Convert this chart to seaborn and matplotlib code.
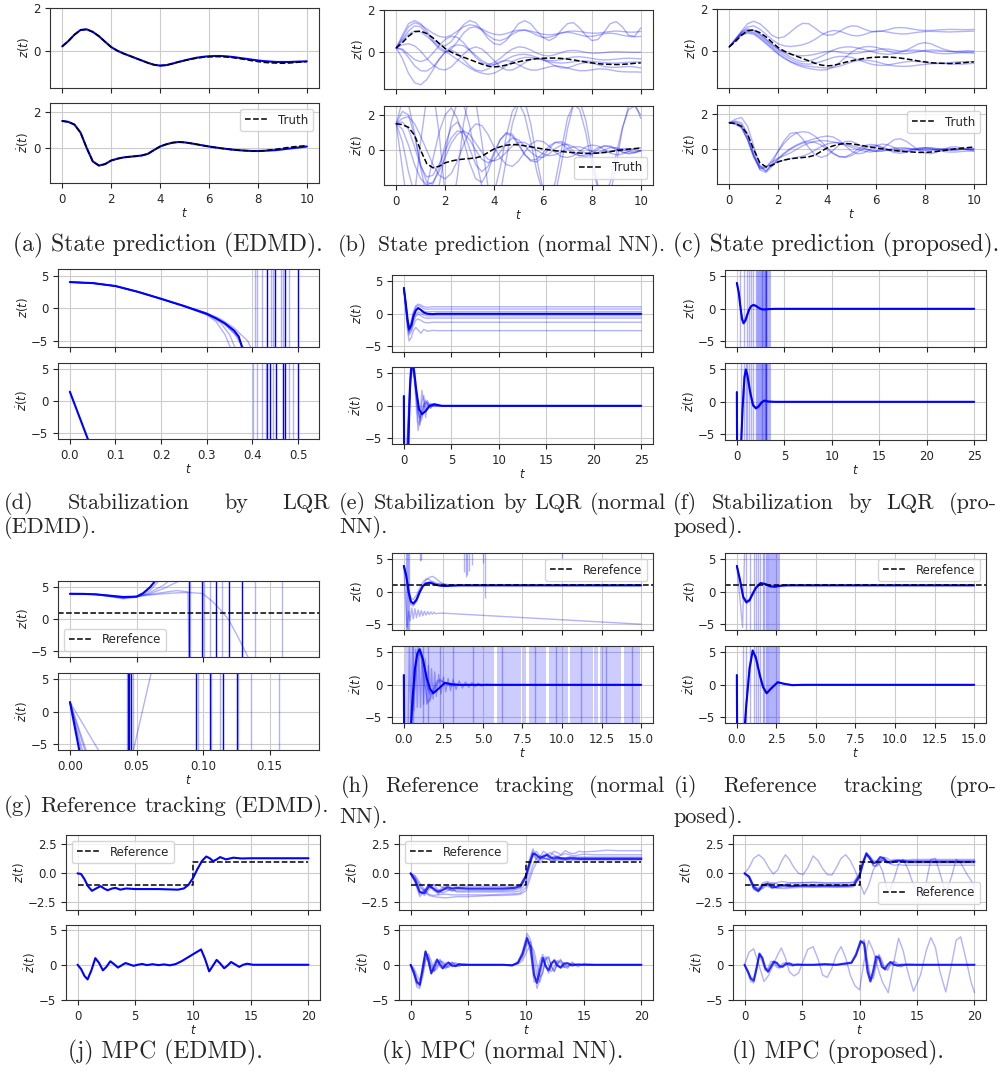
import numpy as np
import matplotlib
matplotlib.use("Agg")
import matplotlib.pyplot as plt
import seaborn as sns

sns.set_style("ticks", {"axes.grid": True, "grid.color": "#cccccc", "axes.edgecolor": "#333333"})
plt.rcParams["font.family"] = ["DejaVu Sans"]
plt.rcParams["xtick.labelsize"] = 8.5
plt.rcParams["ytick.labelsize"] = 8.5
plt.rcParams["xtick.major.size"] = 3.5
plt.rcParams["ytick.major.size"] = 3.5
plt.rcParams["grid.linewidth"] = 0.8
plt.rcParams["legend.fontsize"] = 8.5

W, H = 1003, 1078

# ---------------- row 1: state prediction ----------------
t1 = np.linspace(0, 10, 41)
truth_z = [0.2, 0.45, 0.75, 0.97, 1.0, 0.88, 0.68, 0.42, 0.17, 0.0,
           -0.13, -0.24, -0.35, -0.46, -0.57, -0.66, -0.70, -0.68, -0.61, -0.53,
           -0.46, -0.40, -0.35, -0.31, -0.29, -0.28, -0.28, -0.30, -0.33, -0.37,
           -0.42, -0.47, -0.51, -0.55, -0.57, -0.58, -0.59, -0.58, -0.56, -0.53,
           -0.51]
truth_dz = [1.5, 1.45, 1.3, 0.85, 0.0, -0.75, -0.98, -0.9, -0.7, -0.6,
            -0.53, -0.49, -0.46, -0.42, -0.33, -0.12, 0.08, 0.2, 0.29, 0.33,
            0.31, 0.26, 0.2, 0.14, 0.08, 0.03, -0.02, -0.06, -0.1, -0.13,
            -0.15, -0.17, -0.17, -0.15, -0.11, -0.07, -0.02, 0.03, 0.07, 0.1,
            0.13]
edmd_z = [0.2, 0.45, 0.75, 0.97, 1.0, 0.88, 0.68, 0.42, 0.17, 0.0,
          -0.13, -0.24, -0.35, -0.46, -0.57, -0.66, -0.70, -0.68, -0.61, -0.53,
          -0.46, -0.39, -0.33, -0.29, -0.26, -0.25, -0.25, -0.27, -0.30, -0.34,
          -0.38, -0.42, -0.46, -0.49, -0.51, -0.53, -0.53, -0.53, -0.52, -0.51,
          -0.50]
edmd_dz = [1.5, 1.45, 1.3, 0.85, 0.0, -0.75, -0.98, -0.9, -0.7, -0.6,
           -0.53, -0.49, -0.46, -0.42, -0.33, -0.12, 0.08, 0.2, 0.29, 0.33,
           0.31, 0.26, 0.2, 0.14, 0.08, 0.03, -0.02, -0.06, -0.1, -0.13,
           -0.15, -0.17, -0.17, -0.16, -0.14, -0.12, -0.08, -0.04, 0.0, 0.04,
           0.08]

nn_z = [
    [0.2, 0.8, 1.35, 1.5, 1.35, 1.0, 0.6, 0.35, 0.3, 0.5, 0.9, 1.3, 1.5, 1.4, 1.05, 0.65, 0.4, 0.35, 0.55, 0.95,
     1.35, 1.5, 1.35, 1.0, 0.7, 0.55, 0.7, 1.05, 1.35, 1.4, 1.15, 0.8, 0.55, 0.6, 0.95, 1.35, 1.45, 1.2, 0.8, 0.75, 1.15],
    [0.2, 0.6, 1.0, 1.25, 1.2, 0.9, 0.5, 0.15, 0.0, 0.15, 0.5, 0.9, 1.15, 1.2, 1.05, 0.8, 0.6, 0.55, 0.65, 0.85,
     1.0, 1.05, 0.95, 0.8, 0.7, 0.7, 0.8, 0.9, 0.95, 0.9, 0.82, 0.75, 0.75, 0.8, 0.88, 0.9, 0.87, 0.8, 0.75, 0.73, 0.75],
    [0.2, 0.7, 1.2, 1.4, 1.3, 1.1, 0.9, 0.75, 0.7, 0.8, 1.0, 1.2, 1.3, 1.25, 1.1, 0.95, 0.85, 0.82, 0.88, 0.98,
     1.05, 1.05, 1.0, 0.92, 0.85, 0.82, 0.85, 0.92, 0.98, 1.0, 0.98, 0.93, 0.9, 0.9, 0.94, 0.98, 1.0, 0.98, 0.95, 0.95, 0.98],
    [0.2, -0.3, -1.0, -1.45, -1.55, -1.3, -0.85, -0.35, 0.0, 0.1, -0.05, -0.35, -0.65, -0.85, -0.9, -0.8, -0.6, -0.45, -0.4, -0.45,
     -0.6, -0.75, -0.85, -0.85, -0.78, -0.7, -0.65, -0.68, -0.75, -0.83, -0.88, -0.88, -0.84, -0.8, -0.8, -0.84, -0.9, -0.93, -0.94, -0.94, -0.95],
    [0.2, 0.1, -0.25, -0.65, -0.88, -0.9, -0.7, -0.35, 0.0, 0.25, 0.35, 0.3, 0.1, -0.15, -0.4, -0.55, -0.6, -0.5, -0.35, -0.2,
     -0.12, -0.1, -0.15, -0.25, -0.35, -0.4, -0.4, -0.35, -0.28, -0.23, -0.22, -0.25, -0.3, -0.35, -0.37, -0.36, -0.33, -0.3, -0.29, -0.3, -0.32],
    [0.2, 0.15, -0.1, -0.35, -0.45, -0.35, -0.05, 0.3, 0.6, 0.75, 0.7, 0.45, 0.1, -0.25, -0.5, -0.6, -0.5, -0.3, -0.05, 0.15,
     0.25, 0.22, 0.1, -0.05, -0.15, -0.18, -0.12, -0.02, 0.06, 0.08, 0.05, -0.01, -0.05, -0.05, -0.02, 0.01, 0.02, 0.01, 0.0, -0.01, 0.0],
    [0.2, 0.35, 0.4, 0.3, 0.05, -0.3, -0.6, -0.8, -0.85, -0.7, -0.4, -0.1, 0.15, 0.25, 0.15, -0.1, -0.4, -0.7, -0.85, -0.85,
     -0.7, -0.5, -0.35, -0.3, -0.35, -0.5, -0.65, -0.75, -0.75, -0.65, -0.55, -0.5, -0.52, -0.6, -0.68, -0.72, -0.72, -0.7, -0.68, -0.7, -0.75],
    [0.2, 0.55, 0.85, 1.0, 0.95, 0.75, 0.5, 0.25, 0.05, -0.15, -0.35, -0.55, -0.75, -0.9, -1.0, -1.05, -1.0, -0.85, -0.65, -0.45,
     -0.32, -0.25, -0.25, -0.3, -0.38, -0.45, -0.5, -0.52, -0.5, -0.46, -0.43, -0.42, -0.44, -0.47, -0.5, -0.52, -0.52, -0.5, -0.48, -0.47, -0.47],
]
nn_dz = [
    [1.5, 2.8, 2.6, 1.0, -1.0, -2.6, -3.0, -2.0, -0.2, 1.6, 2.7, 2.6, 1.4, -0.4, -2.0, -2.8, -2.4, -1.0, 0.8, 2.2,
     2.7, 2.0, 0.5, -1.2, -2.4, -2.7, -1.8, 0.0, 1.8, 2.6, 2.3, 1.0, -0.8, -2.2, -2.6, -1.8, -0.2, 1.3, 2.3, 2.5, 2.0],
    [1.5, 2.2, 2.0, 0.8, -0.8, -1.8, -1.9, -1.0, 0.3, 1.3, 1.6, 1.1, 0.1, -0.8, -1.2, -0.9, -0.1, 0.6, 0.95, 0.8,
     0.3, -0.25, -0.55, -0.5, -0.15, 0.25, 0.45, 0.4, 0.1, -0.2, -0.3, -0.25, -0.05, 0.15, 0.25, 0.2, 0.05, -0.1, -0.15, -0.1, 0.0],
    [1.5, 0.5, -1.2, -2.5, -2.8, -2.0, -0.5, 1.0, 2.0, 2.4, 1.8, 0.6, -0.7, -1.6, -1.8, -1.2, -0.2, 0.6, 1.0, 0.9,
     0.4, -0.2, -0.6, -0.65, -0.35, 0.1, 0.45, 0.5, 0.3, -0.05, -0.3, -0.35, -0.2, 0.05, 0.25, 0.25, 0.1, -0.1, -0.2, -0.15, 0.0],
    [1.5, 1.8, 1.9, 1.5, 0.8, 0.0, -0.8, -1.4, -1.6, -1.3, -0.6, 0.3, 1.1, 1.5, 1.4, 0.9, 0.2, -0.4, -0.8, -0.9,
     -0.6, -0.1, 0.35, 0.55, 0.5, 0.25, -0.1, -0.35, -0.4, -0.3, -0.05, 0.2, 0.3, 0.25, 0.05, -0.15, -0.25, -0.2, -0.05, 0.1, 0.15],
    [1.5, -1.0, -3.5, -2.5, 0.5, 3.0, 3.5, 1.0, -2.5, -3.5, -1.5, 1.5, 3.2, 2.8, 0.5, -2.0, -3.0, -2.5, -0.5, 1.5,
     2.6, 2.8, 1.5, -0.5, -2.2, -3.0, -2.5, -0.8, 1.2, 2.6, 2.8, 1.7, -0.2, -2.0, -2.9, -2.5, -0.8, 1.2, 2.5, 2.7, 1.8],
    [1.5, 1.6, 1.2, 0.2, -0.9, -1.5, -1.4, -0.8, 0.0, 0.7, 1.1, 1.0, 0.6, 0.0, -0.5, -0.7, -0.55, -0.1, 0.4, 0.7,
     0.6, 0.25, -0.1, -0.35, -0.4, -0.2, 0.1, 0.3, 0.35, 0.2, 0.0, -0.15, -0.2, -0.12, 0.03, 0.15, 0.15, 0.05, -0.05, -0.1, -0.05],
    [1.5, 1.2, 0.3, -0.8, -1.6, -1.95, -1.8, -1.2, -0.4, 0.4, 0.9, 1.1, 0.9, 0.4, -0.1, -0.5, -0.6, -0.45, -0.1, 0.25,
     0.45, 0.45, 0.25, 0.0, -0.2, -0.3, -0.25, -0.08, 0.1, 0.2, 0.2, 0.1, -0.05, -0.15, -0.15, -0.08, 0.02, 0.1, 0.1, 0.05, -0.02],
]
prop_z = [
    [0.2, 0.55, 0.95, 1.3, 1.42, 1.3, 1.05, 0.75, 0.62, 0.68, 0.9, 1.15, 1.32, 1.3, 1.1, 0.88, 0.75, 0.78, 0.92, 1.1,
     1.2, 1.18, 1.05, 0.95, 0.92, 0.95, 1.02, 1.1, 1.12, 1.1, 1.05, 1.0, 0.98, 0.98, 1.0, 1.02, 1.03, 1.03, 1.02, 1.02, 1.03],
    [0.2, 0.5, 0.9, 1.15, 1.2, 1.05, 0.8, 0.55, 0.35, 0.25, 0.22, 0.25, 0.3, 0.4, 0.55, 0.75, 0.9, 0.98, 0.95, 0.85,
     0.75, 0.72, 0.78, 0.88, 0.95, 0.95, 0.9, 0.85, 0.82, 0.82, 0.86, 0.9, 0.93, 0.94, 0.93, 0.92, 0.91, 0.92, 0.93, 0.94, 0.95],
    [0.2, 0.55, 0.85, 1.0, 0.98, 0.8, 0.55, 0.3, 0.1, -0.05, -0.15, -0.2, -0.22, -0.2, -0.15, -0.08, -0.02, 0.0, -0.05, -0.1,
     -0.12, -0.1, -0.05, 0.0, 0.05, 0.1, 0.1, 0.05, 0.0, 0.05, 0.2, 0.35, 0.4, 0.35, 0.22, 0.1, 0.02, -0.02, 0.0, 0.02, 0.0],
    [0.2, 0.5, 0.8, 0.9, 0.85, 0.65, 0.4, 0.15, -0.1, -0.3, -0.5, -0.65, -0.75, -0.82, -0.87, -0.9, -0.88, -0.75, -0.55, -0.3,
     -0.05, 0.12, 0.2, 0.22, 0.18, 0.1, 0.0, -0.08, -0.12, -0.12, -0.08, -0.02, 0.03, 0.05, 0.04, 0.01, -0.02, -0.04, -0.05, -0.05, -0.05],
    [0.2, 0.5, 0.75, 0.85, 0.8, 0.6, 0.35, 0.1, -0.15, -0.35, -0.5, -0.6, -0.68, -0.72, -0.75, -0.78, -0.8, -0.78, -0.72, -0.62,
     -0.52, -0.45, -0.42, -0.45, -0.5, -0.58, -0.65, -0.7, -0.72, -0.72, -0.7, -0.66, -0.63, -0.6, -0.58, -0.58, -0.6, -0.62, -0.62, -0.6, -0.58],
    [0.2, 0.58, 0.9, 1.05, 1.0, 0.82, 0.58, 0.32, 0.1, -0.1, -0.28, -0.42, -0.5, -0.48, -0.38, -0.25, -0.1, 0.05, 0.15, 0.2,
     0.2, 0.15, 0.08, 0.0, -0.08, -0.13, -0.15, -0.12, -0.05, 0.02, 0.05, 0.04, 0.0, -0.05, -0.1, -0.12, -0.12, -0.1, -0.08, -0.08, -0.1],
    [0.2, 0.52, 0.82, 0.95, 0.9, 0.72, 0.48, 0.22, 0.0, -0.2, -0.38, -0.52, -0.6, -0.62, -0.58, -0.5, -0.4, -0.3, -0.25, -0.25,
     -0.3, -0.4, -0.5, -0.6, -0.66, -0.68, -0.66, -0.6, -0.55, -0.5, -0.48, -0.5, -0.53, -0.57, -0.59, -0.58, -0.55, -0.52, -0.5, -0.5, -0.5],
]
prop_dz = [
    [1.5, 1.7, 1.8, 1.3, 0.2, -0.9, -1.25, -0.8, -0.1, 0.5, 0.9, 0.95, 0.6, 0.1, -0.3, -0.45, -0.35, -0.05, 0.25, 0.45,
     0.45, 0.3, 0.1, -0.05, -0.12, -0.1, 0.0, 0.08, 0.1, 0.08, 0.02, -0.03, -0.05, -0.03, 0.0, 0.03, 0.04, 0.02, 0.0, -0.02, -0.02],
    [1.5, 1.5, 1.3, 0.6, -0.4, -1.1, -1.05, -0.6, -0.1, 0.35, 0.7, 0.92, 1.0, 0.95, 0.75, 0.45, 0.1, -0.2, -0.4, -0.42,
     -0.25, 0.0, 0.2, 0.28, 0.25, 0.12, 0.0, -0.1, -0.12, -0.08, 0.0, 0.05, 0.07, 0.05, 0.02, -0.02, -0.04, -0.03, 0.0, 0.02, 0.02],
    [1.5, 1.6, 1.5, 0.9, -0.2, -1.0, -1.2, -0.9, -0.5, -0.2, 0.05, 0.25, 0.4, 0.5, 0.6, 0.7, 0.75, 0.7, 0.5, 0.2,
     -0.1, -0.25, -0.2, 0.0, 0.2, 0.3, 0.25, 0.1, -0.05, -0.12, -0.1, 0.0, 0.08, 0.1, 0.05, 0.0, -0.05, -0.05, 0.0, 0.03, 0.05],
    [1.5, 1.45, 1.25, 0.55, -0.45, -1.05, -1.0, -0.7, -0.5, -0.35, -0.2, 0.0, 0.2, 0.35, 0.45, 0.5, 0.48, 0.42, 0.35, 0.25,
     0.12, 0.0, -0.1, -0.15, -0.1, 0.05, 0.3, 0.55, 0.6, 0.45, 0.2, -0.05, -0.2, -0.25, -0.15, 0.0, 0.12, 0.15, 0.08, -0.02, -0.08],
    [1.5, 1.55, 1.4, 0.75, -0.3, -1.15, -1.3, -0.95, -0.55, -0.25, 0.0, 0.2, 0.35, 0.42, 0.4, 0.25, 0.0, -0.25, -0.42, -0.45,
     -0.35, -0.15, 0.05, 0.18, 0.2, 0.1, -0.05, -0.18, -0.22, -0.15, -0.02, 0.08, 0.1, 0.05, -0.05, -0.12, -0.15, -0.15, -0.12, -0.1, -0.1],
    [1.5, 1.42, 1.2, 0.55, -0.35, -0.95, -1.0, -0.85, -0.7, -0.6, -0.52, -0.45, -0.38, -0.25, -0.05, 0.15, 0.3, 0.38, 0.38, 0.32,
     0.22, 0.12, 0.02, -0.05, -0.08, -0.08, -0.05, 0.0, 0.03, 0.05, 0.03, 0.0, -0.03, -0.04, -0.02, 0.0, 0.02, 0.03, 0.02, 0.0, 0.0],
]

# ---------------- row 2: LQR stabilization ----------------
d_main_t = [0, 0.05, 0.1, 0.15, 0.2, 0.25, 0.3, 0.32, 0.34, 0.36, 0.37, 0.38]
d_main_z = [4.0, 3.85, 3.4, 2.5, 1.45, 0.35, -0.85, -1.5, -2.3, -3.4, -4.3, -6.5]
d_faint_z = [
    ([0, 0.05, 0.1, 0.15, 0.2, 0.25, 0.3, 0.33, 0.36, 0.39, 0.40], [4.0, 3.85, 3.4, 2.5, 1.45, 0.4, -0.7, -1.6, -3.0, -5.0, -6.5]),
    ([0, 0.05, 0.1, 0.15, 0.2, 0.25, 0.3, 0.33, 0.36, 0.385], [4.0, 3.85, 3.4, 2.5, 1.45, 0.38, -0.8, -1.9, -3.8, -6.5]),
    ([0, 0.05, 0.1, 0.15, 0.2, 0.25, 0.3, 0.33, 0.35, 0.365], [4.0, 3.85, 3.4, 2.5, 1.45, 0.35, -0.9, -2.2, -4.0, -6.5]),
    ([0, 0.05, 0.1, 0.15, 0.2, 0.25, 0.3, 0.32, 0.34, 0.355], [4.0, 3.85, 3.4, 2.5, 1.45, 0.33, -1.0, -2.0, -4.0, -6.5]),
    ([0, 0.05, 0.1, 0.15, 0.2, 0.25, 0.3, 0.34, 0.37, 0.38], [4.0, 3.85, 3.4, 2.5, 1.45, 0.37, -0.75, -2.4, -4.5, -6.5]),
]
d_spk_z_faint = [0.406, 0.411, 0.422, 0.44, 0.445, 0.463, 0.468, 0.48]
d_spk_z_main = [0.432, 0.45, 0.472, 0.5]
d_main_dz_t = [0, 0.05]
d_main_dz = [1.5, -7.9]
d_spk_dz_faint = [0.402, 0.411, 0.422, 0.429, 0.445, 0.48, 0.488]
d_spk_dz_main = [0.433, 0.438, 0.451, 0.467, 0.472, 0.5]

e_tz = [0, 0.2, 0.4, 0.55, 0.8, 1.0, 1.25, 1.5, 1.8, 2.1, 2.5, 3.0, 3.5, 4.0, 25]
e_main_z = [4, 1.6, -1.0, -2.4, -1.7, -0.4, 0.5, 0.9, 0.6, 0.2, 0.0, -0.05, 0.0, 0.0, 0.0]
e_faint_z = [
    [4, 1.8, -0.8, -2.0, -1.0, 0.3, 1.2, 1.5, 1.35, 1.1, 1.0, 1.1, 1.1, 1.1, 1.1],
    [4, 1.6, -1.0, -2.3, -1.4, 0.0, 1.0, 1.3, 1.1, 0.8, 0.7, 0.75, 0.75, 0.75, 0.75],
    [4, 1.4, -1.3, -2.6, -1.8, -0.5, 0.5, 0.8, 0.6, 0.4, 0.3, 0.35, 0.35, 0.35, 0.35],
    [4, 1.3, -1.5, -2.8, -2.0, -0.9, 0.0, 0.3, 0.1, -0.2, -0.35, -0.3, -0.3, -0.3, -0.3],
    [4, 1.2, -1.7, -3.0, -2.3, -1.2, -0.4, 0.0, -0.3, -0.6, -0.7, -0.65, -0.65, -0.65, -0.65],
    [4, 1.0, -2.0, -3.3, -2.7, -1.8, -1.0, -0.8, -1.0, -1.3, -1.4, -1.3, -1.3, -1.3, -1.3],
    [4, 0.5, -2.8, -4.2, -3.6, -2.6, -2.1, -2.5, -3.0, -2.4, -2.7, -2.55, -2.6, -2.6, -2.6],
]
e_td = [0, 0.03, 0.1, 0.45, 0.55, 0.65, 0.8, 0.95, 1.1, 1.3, 1.6, 1.9, 2.3, 2.7, 3.2, 4, 25]
e_main_dz = [1.5, -8, -12, -8, -2, 3, 6.3, 6.6, 5.0, 2.5, -0.5, -1.3, -0.8, 0.0, 0.25, 0.0, 0.0]
e_tf = [0, 0.03, 0.1, 0.3, 0.5, 0.7, 0.9, 1.1, 1.3, 1.5, 1.7, 1.9, 2.1, 2.3, 2.5, 2.8, 3.1, 3.5, 4.0, 25]
e_faint_dz = [
    [1.5, -8, -12, -9, -2, 4, 6.5, 4, 0, -3.8, -2, 2.4, 0.5, -1.8, 0.8, -0.4, 0.3, 0.1, 0, 0],
    [1.5, -8, -12, -8, -1, 5, 6.8, 5, 1.5, -2.5, -3, 0.5, 1.6, -0.5, -0.6, 0.4, 0.1, 0.0, 0, 0],
    [1.5, -8, -12, -7, 0, 5.5, 6.2, 4.5, 1.8, -0.8, -2.0, -1.5, 0.3, 0.9, 0.2, -0.3, 0.1, 0.0, 0, 0],
    [1.5, -8, -12, -9, -3, 3, 6, 5, 2, -1, -2.5, -2.0, -0.5, 0.6, 0.5, 0.0, -0.1, 0.0, 0, 0],
    [1.5, -8, -12, -8, -1.5, 4.5, 7, 6, 3, -0.5, -1.8, -1.0, 0.2, 0.4, 0.1, -0.1, 0.0, 0.0, 0, 0],
]

f_tz = [0, 0.2, 0.4, 0.55, 0.7, 0.9, 1.1, 1.3, 1.5, 1.75, 2.0, 2.3, 2.6, 2.9, 3.3, 4, 25]
f_main_z = [4.0, 2.5, 0.0, -1.6, -2.2, -1.8, -0.9, -0.1, 0.4, 0.6, 0.45, 0.15, -0.05, -0.1, -0.05, 0.0, 0.0]
f_faint_z = [
    [4.0, 2.3, -0.3, -1.8, -2.4, -2.0, -1.1, -0.2, 0.4, 0.7, 0.55, 0.2, -0.05, -0.15, -0.05, 0.0, 0.0],
    [4.0, 2.7, 0.3, -1.3, -2.0, -1.6, -0.7, 0.0, 0.45, 0.55, 0.35, 0.08, -0.1, -0.08, 0.0, 0.0, 0.0],
]
f_spk_z = [0.36, 0.72, 1.03, 1.3, 1.48, 1.75, 2.0, 2.12, 2.25, 2.35, 2.45, 2.55, 2.62, 2.7, 2.8,
           2.86, 2.92, 2.97, 3.02, 3.06, 3.1]
f_td = [0, 0.03, 0.35, 0.45, 0.6, 0.8, 0.95, 1.1, 1.4, 1.7, 2.0, 2.3, 2.6, 2.9, 3.3, 4, 25]
f_main_dz = [1.5, -9, -9, -6.5, -1.0, 3.8, 5.0, 4.2, 1.5, -0.5, -1.0, -0.7, -0.1, 0.2, 0.05, 0, 0]
f_faint_dz = [
    [1.5, -9, -9, -7, -2.0, 3.0, 4.6, 4.3, 1.9, -0.2, -1.1, -0.9, -0.2, 0.15, 0.05, 0, 0],
    [1.5, -9, -9, -6, -0.2, 4.2, 5.0, 3.8, 1.2, -0.7, -0.9, -0.5, 0.0, 0.15, 0.0, 0, 0],
]
f_spk_dz = [0.4, 0.72, 0.95, 1.1, 1.3, 1.48, 1.75, 2.0, 2.12, 2.25, 2.35, 2.45, 2.55, 2.62, 2.7, 2.8,
            2.86, 2.92, 2.97, 3.02, 3.06, 3.1]
f_band = (3.1, 3.58)

# ---------------- row 3: reference tracking ----------------
g_main_t = [0, 0.01, 0.02, 0.03, 0.04, 0.05, 0.055, 0.06, 0.066]
g_main_z = [4.0, 3.98, 3.9, 3.7, 3.5, 3.55, 4.1, 5.0, 6.5]
g_faint_z = [
    ([0, 0.01, 0.02, 0.03, 0.04, 0.05, 0.06, 0.068], [4.0, 3.98, 3.88, 3.6, 3.3, 3.55, 4.5, 6.3]),
    ([0, 0.01, 0.02, 0.03, 0.04, 0.05, 0.06, 0.07, 0.076], [4.0, 3.98, 3.85, 3.55, 3.2, 3.45, 4.2, 5.3, 6.3]),
    ([0, 0.01, 0.02, 0.03, 0.04, 0.05, 0.06, 0.07, 0.08, 0.086], [4.0, 3.98, 3.9, 3.65, 3.35, 3.6, 4.0, 4.8, 5.8, 6.5]),
    ([0, 0.01, 0.02, 0.03, 0.04, 0.05, 0.06, 0.07, 0.08, 0.0885, 0.0895], [4.0, 3.98, 3.9, 3.7, 3.4, 3.6, 3.9, 4.2, 4.5, 4.3, -7]),
    ([0, 0.01, 0.02, 0.03, 0.04, 0.05, 0.06, 0.07, 0.08, 0.0894, 0.0995, 0.107, 0.113, 0.119, 0.126, 0.133, 0.136],
     [4.0, 3.98, 3.9, 3.7, 3.45, 3.55, 3.8, 4.0, 4.15, 4.2, 4.05, 2.8, 1.5, 0.0, -2.7, -5.6, -7]),
]
g_spk_z_main = [0.0894, 0.0995, 0.1095, 0.1195, 0.1295]
g_spk_z_faint = [0.0905, 0.101, 0.105, 0.114, 0.139, 0.159]
g_main_dz = ([0, 0.0075], [1.5, -6.5])
g_faint_dz = [
    ([0, 0.0088], [1.5, -6.5]), ([0, 0.01], [1.5, -6.5]), ([0, 0.012], [1.5, -6.5]),
    ([0, 0.013], [1.5, -6.5]), ([0, 0.023], [1.5, -6.5]), ([0.047, 0.0615], [-6.5, 6.5]),
]
g_spk_dz_main = [0.0435, 0.0445, 0.046, 0.0944, 0.105, 0.115, 0.1256]
g_spk_dz_faint = [0.0425, 0.047, 0.096, 0.106, 0.113, 0.1263, 0.136, 0.157]

h_tz = [0, 0.15, 0.3, 0.45, 0.6, 0.8, 1.0, 1.2, 1.4, 1.6, 1.8, 2.0, 2.3, 2.6, 3.0, 3.5, 15]
h_main_z = [4, 2.5, 0.0, -1.5, -1.8, -1.2, 0.0, 0.9, 1.3, 1.4, 1.3, 1.1, 0.95, 0.9, 0.95, 1.0, 1.0]
h_faint_z = [
    [4, 2.2, -0.5, -2.0, -2.2, -1.5, -0.2, 1.0, 1.8, 2.2, 2.4, 2.1, 1.5, 1.1, 1.0, 1.0, 1.0],
    [4, 2.6, 0.4, -1.0, -1.2, -0.5, 0.6, 1.5, 2.0, 1.9, 1.5, 1.2, 1.3, 1.2, 1.05, 1.0, 1.0],
    [4, 2.4, -0.2, -1.7, -2.0, -1.4, -0.3, 0.7, 1.2, 1.5, 1.6, 1.4, 1.1, 0.85, 0.9, 1.0, 1.0],
]
h_low_t = [0, 0.1, 0.2, 0.3, 0.4, 0.5, 0.6, 0.7, 0.8, 0.9, 1.0, 1.1, 1.2, 1.3, 1.4, 1.5, 1.6, 1.7, 1.8, 1.9,
           2.0, 2.2, 2.5, 15]
h_low_z = [4, -1, -5.5, -3, -4.5, -2.5, -4.2, -2.6, -4.0, -2.8, -3.8, -2.9, -3.7, -3.0, -3.6, -3.05, -3.5, -3.1,
           -3.45, -3.15, -3.4, -3.3, -3.3, -5.0]
h_spk_t = [0.15, 0.22, 0.28, 0.34, 1.0, 1.1, 3.8, 3.9, 4.0, 4.1, 4.3, 5.0, 5.1, 10.0]
h_spk_low = [-7, -7, -7, -7, 4.8, 4.9, 3.0, 2.3, 2.6, 3.2, 4.2, 4.4, -1.0, 5.3]
h_main_dz_t = [0, 0.02, 0.35, 0.44, 0.55, 0.7, 0.85, 1.0, 1.2, 1.45, 1.65, 1.85, 2.1, 2.6, 3.0, 3.5, 15]
h_main_dz = [1.5, -9, -9, -6.5, -2.0, 2.5, 4.8, 5.5, 4.0, 1.0, -0.6, -1.3, -0.8, 0.3, 0.1, 0.0, 0.0]
h_saw_t = [0, 0.02, 0.25, 0.35, 0.45, 0.55, 0.65, 0.75, 0.85, 0.95, 1.05, 1.15, 1.25, 1.35, 1.45, 1.55, 1.65,
           1.75, 1.85, 1.95, 2.05, 2.2, 2.35, 2.5, 2.65, 2.8, 2.95, 3.1, 3.3, 3.5, 3.7, 3.9, 4.1, 4.3, 4.5,
           4.7, 4.9, 5.2, 5.6, 15]
h_saw_dz = [1.5, -9, -9, 6, -5, 6, -4, 5.5, -3.5, 5, -3.5, 4.5, -3, 4, -3, 3, -2.5, 2.5, -2.2, 2, -1.8, 1.6,
            -1.4, 1.2, -1.1, 1.0, -0.9, 0.8, -0.7, 0.6, -0.5, 0.45, -0.4, 0.35, -0.3, 0.25, -0.2, 0.1, 0.0, 0.0]
h_fd_t = [0, 0.02, 0.4, 0.5, 0.7, 0.9, 1.1, 1.3, 1.5, 1.7, 1.9, 2.1, 2.3, 2.6, 3.0, 3.5, 15]
h_faint_dz = [
    [1.5, -9, -9, -5, 2, 5.8, 4, 0.5, -2.8, -2.0, -0.5, 0.6, 0.8, 0.2, -0.2, 0, 0],
    [1.5, -9, -9, -6, 0, 4.5, 5.0, 2.5, -0.5, -1.5, -1.0, 0.2, 0.6, 0.3, 0.0, 0, 0],
]
h_bands = [(0.05, 5.7), (5.9, 7.4), (7.55, 7.75), (7.9, 9.0), (9.15, 10.35), (10.5, 11.95),
           (12.05, 12.25), (12.4, 13.75), (13.9, 14.95)]
h_dark_spk = [0.6, 1.2, 1.5, 2.3, 3.1, 4.4, 6.2, 8.3, 9.6, 11.2, 12.8, 14.4]

i_tz = [0, 0.2, 0.4, 0.6, 0.8, 1.0, 1.2, 1.5, 1.8, 2.1, 2.4, 2.8, 3.2, 15]
i_main_z = [4.0, 1.8, -0.8, -1.6, -1.3, -0.3, 0.6, 1.35, 1.2, 0.85, 0.78, 0.95, 1.0, 1.0]
i_faint_z = [
    [4.0, 1.6, -1.0, -1.8, -1.5, -0.5, 0.5, 1.3, 1.3, 1.0, 0.8, 0.9, 1.0, 1.0],
    [4.0, 2.0, -0.6, -1.4, -1.1, -0.1, 0.8, 1.4, 1.1, 0.8, 0.85, 1.0, 1.0, 1.0],
]
i_dive = ([0, 0.36, 0.5], [4.0, -5.5, 7])
i_spk_z = [0.57, 0.85, 1.06, 1.2, 1.36, 1.48, 1.63, 1.74, 1.84, 1.9]
i_td = [0, 0.02, 0.45, 0.5, 0.6, 0.8, 1.0, 1.2, 1.45, 1.65, 1.88, 2.15, 2.58, 3.0, 3.5, 4.2, 15]
i_main_dz = [1.5, -9, -9, -6.5, -3.0, 2.5, 5.3, 4.2, 1.5, -0.3, -1.3, -0.6, 0.4, 0.15, -0.05, 0.0, 0.0]
i_faint_dz = [
    [1.5, -9, -9, -7, -3.5, 2.0, 5.0, 4.4, 1.8, -0.1, -1.2, -0.7, 0.3, 0.2, 0.0, 0.0, 0.0],
    [1.5, -9, -9, -6, -2.5, 3.0, 5.4, 4.0, 1.2, -0.5, -1.4, -0.5, 0.45, 0.1, -0.05, 0.0, 0.0],
]
i_spk_dz = [0.38, 0.6, 0.85, 1.06, 1.2, 1.36, 1.48, 1.63, 1.74, 1.84, 1.9]
i_band = (1.95, 2.72)

# ---------------- row 4: MPC ----------------
ref_t = [0, 10, 10, 20]
ref_v = [-1, -1, 1, 1]
j_tz = [0, 0.3, 0.6, 0.9, 1.25, 1.6, 2.0, 2.3, 2.6, 3.0, 3.3, 3.7, 4.2, 5, 6, 7, 8, 8.7, 9.2, 9.6,
        10.0, 10.4, 10.8, 11.15, 11.45, 11.75, 12.05, 12.35, 12.85, 13.5, 14.2, 15, 20]
j_z = [0, -0.05, -0.5, -1.1, -1.5, -1.3, -1.1, -1.3, -1.45, -1.3, -1.25, -1.4, -1.3, -1.35, -1.35, -1.35,
       -1.38, -1.4, -1.3, -1.0, -0.4, 0.4, 1.1, 1.45, 1.3, 1.05, 1.2, 1.4, 1.2, 1.35, 1.28, 1.3, 1.3]
j_td = [0, 0.3, 0.6, 0.87, 1.2, 1.54, 1.85, 2.2, 2.5, 2.84, 3.15, 3.5, 3.8, 4.15, 4.5, 4.85, 5.2, 5.6, 6.0,
        6.5, 7.0, 7.5, 8.0, 8.5, 9.0, 9.5, 10.0, 10.4, 10.7, 11.05, 11.4, 11.7, 12.05, 12.4, 12.7, 13.0,
        13.3, 13.65, 14.0, 14.35, 14.7, 15.2, 16, 20]
j_dz = [0, -0.6, -1.6, -2.1, -0.8, 0.95, 0.3, -0.8, -0.3, 0.5, 0.1, -0.4, -0.1, 0.25, 0.05, -0.15, 0.0, 0.12,
        -0.05, 0.08, -0.05, 0.05, -0.08, 0.1, 0.5, 1.0, 1.5, 1.9, 2.2, 0.8, -0.95, -0.2, 0.7, 0.1, -0.5, -0.1,
        0.4, 0.05, -0.3, 0.0, 0.15, 0.0, 0.0, 0.0]

tk = [0, 0.4, 0.8, 1.2, 1.6, 2.0, 2.4, 2.8, 3.2, 3.6, 4.0, 5, 6, 7, 8, 9, 9.5, 10, 10.3, 10.6, 10.9, 11.2,
      11.5, 11.8, 12.1, 12.4, 12.7, 13.0, 13.4, 13.8, 14.2, 14.6, 15, 16, 17, 18, 20]
k_main_z = [0, -0.6, -1.6, -1.7, -1.1, -1.3, -1.6, -1.4, -1.2, -1.3, -1.25, -1.3, -1.3, -1.3, -1.3, -1.25,
            -1.1, -0.2, 0.8, 1.7, 1.6, 1.3, 1.45, 1.6, 1.4, 1.25, 1.35, 1.3, 1.25, 1.3, 1.28, 1.25, 1.25,
            1.25, 1.25, 1.25, 1.25]
k_faint_z = [
    [0, -0.3, -1.0, -1.6, -1.9, -2.0, -2.05, -2.1, -2.1, -2.05, -2.0, -2.0, -1.95, -1.9, -1.9, -1.85, -1.8,
     -1.5, -0.6, 0.3, 0.9, 1.2, 1.3, 1.25, 1.15, 1.1, 1.15, 1.15, 1.15, 1.15, 1.15, 1.15, 1.15, 1.15, 1.15, 1.15, 1.15],
    [0, -0.8, -2.0, -1.5, -0.9, -1.4, -1.8, -1.5, -1.3, -1.5, -1.5, -1.5, -1.5, -1.5, -1.5, -1.45, -1.3,
     -0.3, 1.2, 2.1, 1.5, 1.4, 1.9, 1.7, 1.5, 1.9, 1.8, 1.6, 1.95, 1.75, 1.7, 1.9, 1.85, 1.9, 2.0, 1.95, 1.95],
    [0, -0.5, -1.5, -1.9, -1.4, -1.0, -1.4, -1.7, -1.5, -1.3, -1.6, -1.6, -1.6, -1.6, -1.6, -1.6, -1.5,
     -0.8, 0.5, 1.5, 1.9, 1.5, 1.3, 1.6, 1.8, 1.6, 1.4, 1.55, 1.7, 1.6, 1.5, 1.6, 1.65, 1.6, 1.6, 1.6, 1.6],
    [0, -0.4, -1.2, -1.5, -1.2, -0.95, -1.05, -1.2, -1.1, -1.05, -1.1, -1.1, -1.1, -1.12, -1.12, -1.1, -1.0,
     -0.1, 1.0, 1.6, 1.2, 0.9, 1.2, 1.3, 1.1, 1.05, 1.2, 1.2, 1.15, 1.2, 1.2, 1.2, 1.2, 1.2, 1.2, 1.2, 1.2],
    [0, -0.2, -0.8, -1.4, -1.8, -1.9, -1.85, -1.8, -1.8, -1.85, -1.85, -1.85, -1.85, -1.85, -1.8, -1.75, -1.7,
     -1.2, -0.2, 0.7, 1.3, 1.5, 1.4, 1.2, 1.3, 1.45, 1.4, 1.3, 1.35, 1.4, 1.4, 1.4, 1.4, 1.4, 1.4, 1.4, 1.4],
    [0, -0.7, -1.8, -1.4, -1.0, -1.5, -1.5, -1.2, -1.4, -1.5, -1.35, -1.4, -1.4, -1.4, -1.4, -1.35, -1.2,
     -0.5, 0.9, 1.9, 1.3, 1.1, 1.6, 1.5, 1.2, 1.4, 1.5, 1.35, 1.3, 1.4, 1.35, 1.35, 1.35, 1.35, 1.35, 1.35, 1.35],
]
tkd = [0, 0.3, 0.55, 0.8, 1.05, 1.3, 1.55, 1.8, 2.05, 2.3, 2.55, 2.8, 3.05, 3.3, 3.6, 3.9, 4.2, 4.6, 5, 6,
       7, 8, 8.8, 9.3, 9.7, 10.1, 10.4, 10.7, 10.95, 11.2, 11.45, 11.7, 11.95, 12.2, 12.45, 12.7, 13.0, 13.3,
       13.6, 14.0, 14.5, 15, 16, 17, 18, 20]
k_main_dz = [0, -1.2, -2.5, -2.8, -0.5, 1.9, 0.6, -1.2, -0.3, 0.7, 0.1, -0.5, 0.0, 0.3, -0.1, -0.2, 0.1, 0.0,
             0.0, 0.0, 0.0, 0.0, -0.1, 0.3, 1.5, 3.8, 2.5, -1.5, -2.6, -0.8, 1.0, -0.2, -0.8, 0.2, 0.6, -0.1,
             -0.4, 0.2, 0.2, -0.1, 0.05, 0.0, 0.0, 0.0, 0.0, 0.0]
k_faint_dz = [
    [0, -1.5, -3.2, -3.4, -1.0, 1.8, 1.2, -0.8, -1.0, 0.3, 0.8, 0.0, -0.6, 0.0, 0.4, -0.2, -0.2, 0.1, 0.0, 0.0,
     0.0, 0.0, -0.1, 0.4, 2.0, 4.5, 3.5, -0.5, -3.4, -2.0, 0.5, 1.2, 0.0, -1.0, -0.3, 0.6, 0.3, -0.4, -0.2, 0.2,
     0.0, 0.0, 0.0, 0.0, 0.0, 0.0],
    [0, -0.8, -2.0, -3.0, -1.8, 0.5, 1.6, 0.5, -0.8, -0.6, 0.4, 0.5, -0.2, -0.4, 0.1, 0.3, 0.0, -0.1, 0.0, 0.0,
     0.0, 0.0, 0.0, 0.2, 1.0, 3.0, 3.3, 1.0, -1.5, -2.5, -1.0, 0.8, 1.0, -0.3, -0.9, 0.0, 0.6, 0.1, -0.3, 0.1,
     0.0, 0.0, 0.0, 0.0, 0.0, 0.0],
    [0, -0.5, -1.5, -2.2, -1.2, 0.8, 1.0, -0.2, -0.9, -0.2, 0.6, 0.2, -0.4, -0.2, 0.3, 0.1, -0.2, 0.1, 0.0, 0.0,
     0.0, 0.0, 0.0, 0.1, 0.6, 2.0, 2.8, 2.0, 0.0, -1.8, -1.2, 0.8, 1.2, -0.2, -1.0, 0.2, 0.8, -0.3, -0.5, 0.4,
     -0.3, 0.2, 0.0, 0.0, 0.0, 0.0],
    [0, -1.0, -2.8, -3.1, -0.2, 2.0, 0.2, -1.4, 0.3, 0.9, -0.3, -0.6, 0.3, 0.4, -0.3, 0.0, 0.1, -0.1, 0.0, 0.0,
     0.0, 0.0, -0.1, 0.3, 1.7, 4.0, 1.5, -2.5, -2.0, 0.5, 1.5, 0.0, -1.2, -0.2, 0.8, 0.3, -0.5, -0.2, 0.3, 0.0,
     0.0, 0.0, 0.0, 0.0, 0.0, 0.0],
]

l_main_z = [0, -0.3, -1.2, -1.5, -1.0, -0.9, -1.2, -1.15, -1.0, -1.05, -1.1, -1.05, -1.05, -1.05, -1.05, -1.05,
            -1.0, -0.2, 0.9, 1.7, 1.3, 0.85, 1.0, 1.4, 1.3, 1.0, 0.95, 1.05, 1.1, 1.05, 1.0, 1.0, 1.0, 1.0, 1.0,
            1.0, 1.0]
l_faint_z = [
    [0, -0.3, -1.3, -1.6, -1.2, -0.8, -1.0, -1.3, -1.2, -0.9, -0.85, -0.8, -0.8, -0.85, -0.85, -0.8, -0.75,
     0.0, 1.0, 1.6, 1.2, 0.7, 0.6, 0.9, 1.2, 1.1, 0.8, 0.7, 0.75, 0.7, 0.7, 0.7, 0.7, 0.7, 0.7, 0.7, 0.7],
    [0, -0.2, -1.0, -1.4, -1.3, -1.0, -0.8, -0.9, -1.1, -1.2, -1.15, -1.1, -1.15, -1.1, -1.15, -1.1, -1.05,
     -0.3, 0.8, 1.75, 1.5, 1.0, 0.8, 1.1, 1.4, 1.3, 1.1, 1.0, 1.1, 1.2, 1.15, 1.2, 1.2, 1.2, 1.2, 1.2, 1.2],
    [0, -0.4, -1.4, -1.55, -1.0, -1.1, -1.3, -1.2, -1.3, -1.3, -1.25, -1.2, -1.2, -1.2, -1.2, -1.2, -1.15,
     -0.4, 0.7, 1.6, 1.4, 1.1, 1.05, 1.2, 1.15, 0.9, 0.85, 0.95, 1.0, 0.95, 0.9, 0.9, 0.9, 0.9, 0.9, 0.9, 0.9],
    [0, -0.3, -1.1, -1.3, -0.8, -0.7, -0.9, -0.8, -0.7, -0.75, -0.8, -0.8, -0.75, -0.8, -0.8, -0.8, -0.8,
     -0.1, 1.1, 1.8, 1.3, 0.6, 0.7, 1.1, 1.1, 0.9, 1.1, 1.2, 1.15, 1.1, 1.1, 1.1, 1.1, 1.1, 1.1, 1.1, 1.1],
]
l_main_dz = [0, -1.0, -2.0, -2.3, -0.5, 1.6, 1.0, -0.4, -1.0, -0.3, 0.4, 0.3, -0.2, -0.3, 0.1, 0.2, 0.0, 0.0,
             0.0, 0.0, 0.1, 0.0, 0.2, 0.3, 1.5, 3.4, 3.0, -1.0, -2.4, -0.8, 1.2, 1.0, -0.3, -0.6, 0.0, 0.4, 0.0,
             -0.1, 0.0, 0.0, 0.0, 0.0, 0.0, 0.0, 0.0, 0.0]
l_faint_dz = [
    [0, -1.2, -2.4, -2.6, -0.8, 1.5, 0.8, -0.7, -1.0, 0.0, 0.6, 0.0, -0.5, -0.1, 0.3, 0.0, -0.2, 0.1, 0.0, 0.0,
     0.0, 0.0, 0.1, 0.3, 1.3, 3.2, 3.3, 0.0, -2.2, -1.5, 0.5, 1.3, 0.3, -0.8, -0.5, 0.3, 0.4, -0.2, -0.2, 0.1,
     0.0, 0.0, 0.0, 0.0, 0.0, 0.0],
    [0, -0.8, -1.8, -2.0, -0.2, 1.4, 0.4, -0.8, -0.5, 0.5, 0.4, -0.4, -0.4, 0.2, 0.3, -0.1, -0.1, 0.1, 0.0, 0.0,
     0.0, 0.0, 0.1, 0.2, 1.2, 3.0, 3.6, 0.5, -1.8, -2.0, 0.0, 1.5, 0.6, -0.5, -0.8, 0.0, 0.5, 0.2, -0.3, 0.0,
     0.1, 0.0, 0.0, 0.0, 0.0, 0.0],
]
tl = [0, 0.4, 0.8, 1.25, 1.7, 2.1, 2.5, 2.9, 3.2, 3.56, 3.9, 4.3, 4.7, 5.1, 5.5, 5.97, 6.4, 6.8, 7.2, 7.6,
      8.0, 8.4, 8.8, 9.2, 9.6, 10.0, 10.4, 10.8, 11.2, 11.6, 12.0, 12.5, 13.0, 13.4, 13.8, 14.2, 14.7, 15.3,
      15.8, 16.2, 16.6, 17.0, 17.5, 18.0, 18.4, 18.8, 19.3, 19.7, 20.0]
l_wild_z = [0, 0.5, 1.3, 1.6, 1.2, 0.5, -0.05, 0.3, 1.0, 1.6, 1.2, 0.5, 0.0, -0.1, 0.5, 1.5, 1.1, 0.4, -0.1,
            -0.15, 0.5, 1.3, 1.6, 1.1, 0.3, -0.7, -1.8, -1.0, 0.3, 1.0, 0.2, -1.8, -0.5, 0.8, 1.2, 0.4, -1.0,
            -2.2, -0.8, 1.2, 1.3, 0.0, -1.7, -0.3, 1.2, 0.9, 0.0, -0.6, -1.1]
l_wild_dz = [0, 1.8, 2.3, 0.0, -2.4, -1.5, 0.0, 1.5, 2.4, 1.0, -1.0, -1.6, -1.2, 0.5, 2.2, 2.6, 0.8, -1.5, -1.8,
             -0.5, 1.5, 2.6, 1.0, -1.5, -3.0, -3.6, 0.5, 3.5, 2.0, -0.5, -2.5, -4.0, 0.5, 3.8, 2.0, -1.0, -3.8,
             -1.5, 2.0, 3.9, 2.5, -1.0, -3.9, 0.0, 3.5, 4.0, 0.5, -2.5, -4.0]

# ---------------- drawing ----------------
fig = plt.figure(figsize=(W / 100, H / 100), dpi=100)


def line(ax, t, y, kind="faint", **kw):
    style = {
        "main": dict(color="blue", linewidth=1.5),
        "faint": dict(color="blue", linewidth=1.0, alpha=0.3),
        "dash": dict(color="black", linewidth=1.1, linestyle="--"),
    }[kind]
    style.update(kw)
    sns.lineplot(x=np.asarray(t, float), y=np.asarray(y, float), ax=ax,
                 estimator=None, sort=False, legend=False, **style)


def spikes(ax, ts, kind="faint", low=-100, high=100):
    alpha = 1.0 if kind == "main" else 0.3
    ax.vlines(ts, low, high, colors="blue", alpha=alpha, linewidth=1.0)


def pair(x0, x1, top, bot):
    at = fig.add_axes([x0 / W, 1 - top[1] / H, (x1 - x0) / W, (top[1] - top[0]) / H])
    ab = fig.add_axes([x0 / W, 1 - bot[1] / H, (x1 - x0) / W, (bot[1] - bot[0]) / H])
    return at, ab


def finish(at, ab, xlim, xt, ylt, ylb, ytt, ytb):
    for a, yl, yt in ((at, ylt, ytt), (ab, ylb, ytb)):
        a.set_xlim(xlim)
        a.set_xticks(xt)
        a.set_ylim(yl)
        a.set_yticks(yt)
        a.grid(True)
    at.tick_params(labelbottom=False)
    at.set_ylabel("$z(t)$", fontsize=8.5, labelpad=1)
    ab.set_ylabel(r"$\dot{z}(t)$", fontsize=8.5, labelpad=1)
    ab.set_xlabel("$t$", fontsize=8.5, labelpad=1)


row1 = dict(xlim=(-0.5, 10.5), xt=[0, 2, 4, 6, 8, 10], ylt=(-1.75, 2.0), ylb=(-1.95, 2.5), ytt=[0, 2], ytb=[0, 2])

# (a)
at, ab = pair(50, 319, (8, 88), (103, 183))
line(at, t1, edmd_z, "main")
line(at, t1, truth_z, "dash")
line(ab, t1, edmd_dz, "main")
line(ab, t1, truth_dz, "dash", label="Truth")
ab.legend(loc="upper right")
finish(at, ab, **row1)

# (b)
at, ab = pair(384, 653, (10, 89), (106, 185))
for y in nn_z:
    line(at, t1, y)
for y in nn_dz:
    line(ab, t1, y)
line(at, t1, truth_z, "dash")
line(ab, t1, truth_dz, "dash", label="Truth")
ab.legend(loc="lower right")
finish(at, ab, **row1)

# (c)
at, ab = pair(717, 986, (9, 88), (105, 184))
for y in prop_z:
    line(at, t1, y)
for y in prop_dz:
    line(ab, t1, y)
line(at, t1, truth_z, "dash")
line(ab, t1, truth_dz, "dash", label="Truth")
ab.legend(loc="upper right")
finish(at, ab, **row1)

yl6 = (-5.9, 6.0)
yt5 = [-5, 0, 5]

# (d)
at, ab = pair(58, 319, (269, 347), (363, 439))
for t, y in d_faint_z:
    line(at, t, y)
line(at, d_main_t, d_main_z, "main")
spikes(at, d_spk_z_faint)
spikes(at, d_spk_z_main, "main")
line(ab, d_main_dz_t, d_main_dz, "main")
spikes(ab, d_spk_dz_faint)
spikes(ab, d_spk_dz_main, "main")
finish(at, ab, (-0.026, 0.546), [0, 0.1, 0.2, 0.3, 0.4, 0.5], yl6, yl6, yt5, yt5)

# (e)
at, ab = pair(392, 653, (275, 352), (367, 444))
for y in e_faint_z:
    line(at, e_tz, y)
line(at, e_tz, e_main_z, "main")
for y in e_faint_dz:
    line(ab, e_tf, y)
line(ab, e_td, e_main_dz, "main")
finish(at, ab, (-1.25, 26.25), [0, 5, 10, 15, 20, 25], yl6, yl6, yt5, yt5)

# (f)
at, ab = pair(725, 986, (270, 347), (363, 440))
spikes(at, f_spk_z)
at.axvspan(*f_band, color="blue", alpha=0.3, linewidth=0)
for y in f_faint_z:
    line(at, f_tz, y)
line(at, f_tz, f_main_z, "main")
spikes(ab, f_spk_dz)
ab.axvspan(*f_band, color="blue", alpha=0.3, linewidth=0)
for y in f_faint_dz:
    line(ab, f_td, y)
line(ab, f_td, f_main_dz, "main")
finish(at, ab, (-1.25, 26.25), [0, 5, 10, 15, 20, 25], yl6, yl6, yt5, yt5)

# (g)
at, ab = pair(58, 319, (581, 657), (673, 750))
for t, y in g_faint_z:
    line(at, t, y)
line(at, g_main_t, g_main_z, "main")
spikes(at, g_spk_z_faint)
spikes(at, g_spk_z_main, "main")
at.axhline(1, color="black", linestyle="--", linewidth=1.1, label="Rerefence")
at.legend(loc="lower left")
for t, y in g_faint_dz:
    line(ab, t, y)
line(ab, *g_main_dz, "main")
spikes(ab, g_spk_dz_faint)
spikes(ab, g_spk_dz_main, "main")
finish(at, ab, (-0.009, 0.187), [0, 0.05, 0.1, 0.15], yl6, yl6, yt5, yt5)
ab.set_xticklabels(["0.00", "0.05", "0.10", "0.15"])

x15 = [0, 2.5, 5, 7.5, 10, 12.5, 15]

# (h)
at, ab = pair(392, 653, (553, 630), (646, 723))
for y in h_faint_z:
    line(at, h_tz, y)
line(at, h_low_t, h_low_z)
at.vlines(h_spk_t, h_spk_low, 7, colors="blue", alpha=0.3, linewidth=1.0)
line(at, h_tz, h_main_z, "main")
at.axhline(1, color="black", linestyle="--", linewidth=1.1, label="Rerefence")
at.legend(loc="upper right")
for a, b in h_bands:
    ab.axvspan(a, b, color="blue", alpha=0.2, linewidth=0)
spikes(ab, h_dark_spk)
line(ab, h_saw_t, h_saw_dz)
for y in h_faint_dz:
    line(ab, h_fd_t, y)
line(ab, h_main_dz_t, h_main_dz, "main")
finish(at, ab, (-0.75, 15.75), x15, yl6, yl6, yt5, yt5)
ab.set_xticklabels(["0.0", "2.5", "5.0", "7.5", "10.0", "12.5", "15.0"])

# (i)
at, ab = pair(725, 986, (553, 630), (646, 723))
spikes(at, i_spk_z)
at.axvspan(*i_band, color="blue", alpha=0.3, linewidth=0)
line(at, *i_dive)
for y in i_faint_z:
    line(at, i_tz, y)
line(at, i_tz, i_main_z, "main")
at.axhline(1, color="black", linestyle="--", linewidth=1.1, label="Rerefence")
at.legend(loc="upper right")
spikes(ab, i_spk_dz)
ab.axvspan(*i_band, color="blue", alpha=0.3, linewidth=0)
for y in i_faint_dz:
    line(ab, i_td, y)
line(ab, i_td, i_main_dz, "main")
finish(at, ab, (-0.75, 15.75), x15, yl6, yl6, yt5, yt5)
ab.set_xticklabels(["0.0", "2.5", "5.0", "7.5", "10.0", "12.5", "15.0"])

row4 = dict(xlim=(-1, 21), xt=[0, 5, 10, 15, 20], ylt=(-3.15, 3.3), ylb=(-5.05, 5.7),
            ytt=[-2.5, 0, 2.5], ytb=[-5, 0, 5])

# (j)
at, ab = pair(66, 320, (835, 910), (925, 1000))
line(at, ref_t, ref_v, "dash", label="Reference")
line(at, j_tz, j_z, "main")
at.legend(loc="upper left")
line(ab, j_td, j_dz, "main")
finish(at, ab, **row4)

# (k)
at, ab = pair(399, 653, (835, 910), (925, 1000))
for y in k_faint_z:
    line(at, tk, y)
line(at, tk, k_main_z, "main", alpha=0.8)
line(at, ref_t, ref_v, "dash", label="Reference")
at.legend(loc="upper left")
for y in k_faint_dz:
    line(ab, tkd, y)
line(ab, tkd, k_main_dz, "main", alpha=0.8)
finish(at, ab, **row4)

# (l)
at, ab = pair(733, 986, (835, 910), (925, 1000))
line(at, tl, l_wild_z)
for y in l_faint_z:
    line(at, tk, y)
line(at, tk, l_main_z, "main", alpha=0.8)
line(at, ref_t, ref_v, "dash", label="Reference")
at.legend(loc="lower right")
line(ab, tl, l_wild_dz)
for y in l_faint_dz:
    line(ab, tkd, y)
line(ab, tkd, l_main_dz, "main", alpha=0.8)
finish(at, ab, **row4)

# ---------------- captions ----------------
renderer = fig.canvas.get_renderer()


def cap(s, x, yb, ha="left", size=16):
    return fig.text(x / W, 1 - yb / H, s, ha=ha, va="baseline", fontsize=size, family="cmr10")


def justify(text, x0, x1, yb, size=16):
    words = text.split(" ")
    texts = [cap(w, 0, yb, size=size) for w in words]
    widths = [t.get_window_extent(renderer).width for t in texts]
    gap = (x1 - x0 - sum(widths)) / (len(words) - 1)
    x = x0
    for t, w in zip(texts, widths):
        t.set_x(x / W)
        x += w + gap


cap("(a) State prediction (EDMD).", 168, 251, ha="center", size=17)
cap("(b)", 338, 251)
cap("State prediction (normal NN).", 665, 251, ha="right", size=15.5)
cap("(c) State prediction (proposed).", 836, 251, ha="center", size=17)

justify("(d) Stabilization by LQR", 4, 330, 509)
cap("(EDMD).", 4, 533)
justify("(e) Stabilization by LQR (normal", 339, 666, 509)
cap("NN).", 339, 533)
justify("(f) Stabilization by LQR (pro-", 673, 997, 509)
cap("posed).", 673, 533)

justify("(g) Reference tracking (EDMD).", 4, 329, 812, size=16.5)
justify("(h) Reference tracking (normal", 341, 665, 792)
cap("NN).", 339, 823)
justify("(i) Reference tracking (pro-", 674, 997, 792)
cap("posed).", 673, 823)

cap("(j) MPC (EDMD).", 165, 1058, ha="center", size=17)
cap("(k) MPC (normal NN).", 503, 1058, ha="center", size=17)
cap("(l) MPC (proposed).", 838, 1058, ha="center", size=17)

fig.savefig("out.png", dpi=100)
plt.close(fig)
